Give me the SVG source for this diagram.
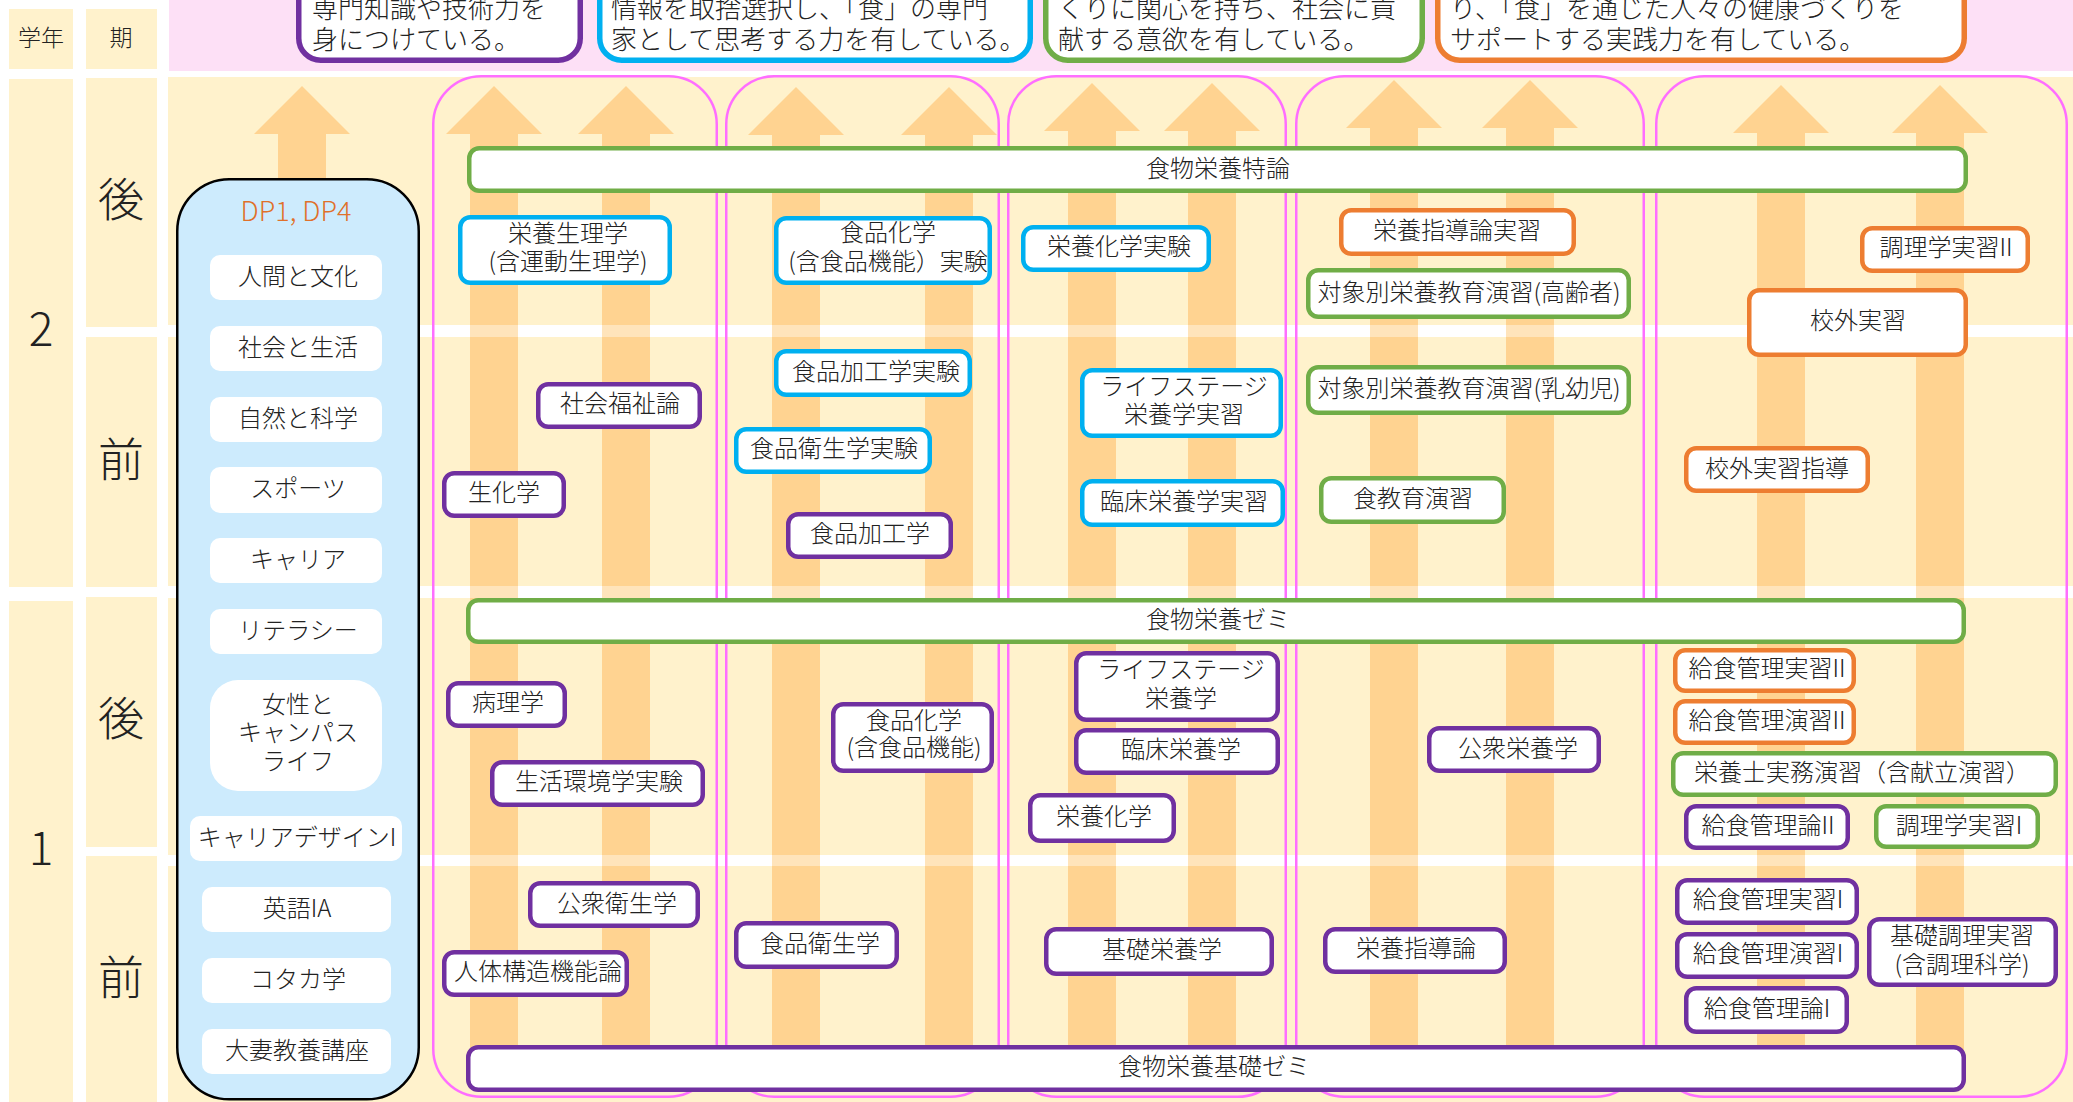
<svg xmlns="http://www.w3.org/2000/svg" width="2073" height="1102" viewBox="0 0 2073 1102">
<style>
.bg{fill:#fff2cc}
.arr{fill:#ffd391}
.col{fill:none;stroke:#ff6eff;stroke-width:2.5}
.n{fill:#fff;stroke-width:4.5}
.top{fill:#fff;stroke-width:5.5}
.p{stroke:#7030a0}.c{stroke:#00b0f0}.g{stroke:#70ad47}.o{stroke:#ed7d31}
text{font-family:"Noto Sans CJK JP","Noto Sans",sans-serif;font-weight:300;fill:#222;transform:translate(0px,-4px)}
.t{font-size:24px;text-anchor:middle;dominant-baseline:central}
.dp{font-size:26px;dominant-baseline:central}
.big{font-size:46px;text-anchor:middle;dominant-baseline:central}
.hd{font-size:23px;text-anchor:middle;dominant-baseline:central}
.inner{fill:#fff}
</style>
<rect width="2073" height="1102" fill="#fff"/>
<g id="background">
<rect x="169" y="0" width="1904" height="71" fill="#fde0f6"/>
<rect class="bg" x="9" y="9" width="64" height="60"/>
<rect class="bg" x="86" y="9" width="71" height="60"/>
<rect class="bg" x="9" y="79" width="64" height="508"/>
<rect class="bg" x="9" y="601" width="64" height="501"/>
<rect class="bg" x="86" y="78" width="71" height="249"/>
<rect class="bg" x="86" y="337" width="71" height="250"/>
<rect class="bg" x="86" y="597" width="71" height="250"/>
<rect class="bg" x="86" y="856" width="71" height="246"/>
<rect class="bg" x="168" y="77" width="1905" height="248"/>
<rect class="bg" x="168" y="337" width="1905" height="249"/>
<rect class="bg" x="168" y="598" width="1905" height="257"/>
<rect class="bg" x="168" y="866" width="1905" height="236"/>
</g>
<g id="labels">
<text class="hd" x="41" y="40">学年</text>
<text class="hd" x="121" y="40">期</text>
<text class="big" x="41" y="330">2</text>
<text class="big" x="41" y="849">1</text>
<text class="big" x="121" y="200">後</text>
<text class="big" x="121" y="460">前</text>
<text class="big" x="121" y="719">後</text>
<text class="big" x="121" y="978">前</text>
</g>
<g id="arrows">
<path class="arr" d="M302,86 L350,134 L326,134 L326,1060 L278,1060 L278,134 L254,134 Z"/>
<path class="arr" d="M494,86 L542,134 L518,134 L518,1060 L470,1060 L470,134 L446,134 Z"/>
<path class="arr" d="M626,86 L674,134 L650,134 L650,1060 L602,1060 L602,134 L578,134 Z"/>
<path class="arr" d="M796,87 L844,135 L820,135 L820,1060 L772,1060 L772,135 L748,135 Z"/>
<path class="arr" d="M949,87 L997,135 L973,135 L973,1060 L925,1060 L925,135 L901,135 Z"/>
<path class="arr" d="M1092,83 L1140,131 L1116,131 L1116,1060 L1068,1060 L1068,131 L1044,131 Z"/>
<path class="arr" d="M1212,83 L1260,131 L1236,131 L1236,1060 L1188,1060 L1188,131 L1164,131 Z"/>
<path class="arr" d="M1394,80 L1442,128 L1418,128 L1418,1060 L1370,1060 L1370,128 L1346,128 Z"/>
<path class="arr" d="M1530,80 L1578,128 L1554,128 L1554,1060 L1506,1060 L1506,128 L1482,128 Z"/>
<path class="arr" d="M1781,85 L1829,133 L1805,133 L1805,1060 L1757,1060 L1757,133 L1733,133 Z"/>
<path class="arr" d="M1940,85 L1988,133 L1964,133 L1964,1060 L1916,1060 L1916,133 L1892,133 Z"/>
<g fill="#fff" opacity="0.38">
<rect x="168" y="325" width="1905" height="12"/>
<rect x="168" y="586" width="1905" height="12"/>
<rect x="168" y="855" width="1905" height="11"/>
</g>
</g>
<g id="columns">
<rect class="col" x="433.25" y="76.25" width="283.5" height="1020.5" rx="48"/>
<rect class="col" x="726.25" y="76.25" width="272.5" height="1020.5" rx="48"/>
<rect class="col" x="1008.25" y="76.25" width="277.5" height="1020.5" rx="48"/>
<rect class="col" x="1296.25" y="76.25" width="347.5" height="1020.5" rx="48"/>
<rect class="col" x="1656.25" y="76.25" width="410.5" height="1020.5" rx="48"/>
</g>
<g id="dp-top">
<g id="dp-a"><rect class="top p" x="298.75" y="-30" width="281.5" height="90.25" rx="22"/>
<text class="dp" x="312" y="10">専門知識や技術力を</text><text class="dp" x="312" y="41">身につけている。</text></g>
<g id="dp-b"><rect class="top c" x="599.75" y="-30" width="430.5" height="90.25" rx="22"/>
<text class="dp" x="611" y="10">情報を取捨選択し、「食」の専門</text><text class="dp" x="611" y="41">家として思考する力を有している。</text></g>
<g id="dp-c"><rect class="top g" x="1045.75" y="-30" width="376.5" height="90.25" rx="22"/>
<text class="dp" x="1058" y="10">くりに関心を持ち、社会に貢</text><text class="dp" x="1058" y="41">献する意欲を有している。</text></g>
<g id="dp-d"><rect class="top o" x="1437.75" y="-30" width="526.5" height="90.25" rx="22"/>
<text class="dp" x="1450" y="10">り、「食」を通じた人々の健康づくりを</text><text class="dp" x="1450" y="41">サポートする実践力を有している。</text></g>
</g>
<g id="general-education">
<rect x="177.25" y="179.25" width="241.5" height="920" rx="52" fill="#cdebfd" stroke="#000" stroke-width="2.5"/>
<text class="t" x="296" y="213" style="fill:#e0702a;font-size:27px">DP1, DP4</text>
<rect class="inner" x="210" y="255" width="172" height="45" rx="10"/><text class="t" x="298" y="278">人間と文化</text>
<rect class="inner" x="210" y="326" width="172" height="45" rx="10"/><text class="t" x="298" y="349">社会と生活</text>
<rect class="inner" x="210" y="397" width="172" height="45" rx="10"/><text class="t" x="298" y="420">自然と科学</text>
<rect class="inner" x="210" y="467" width="172" height="46" rx="10"/><text class="t" x="298" y="490">スポーツ</text>
<rect class="inner" x="210" y="538" width="172" height="45" rx="10"/><text class="t" x="298" y="561">キャリア</text>
<rect class="inner" x="210" y="609" width="172" height="45" rx="10"/><text class="t" x="298" y="632">リテラシー</text>
<rect class="inner" x="210" y="680" width="172" height="111" rx="28"/><text class="t"><tspan x="298" y="706">女性と</tspan><tspan x="298" y="734">キャンパス</tspan><tspan x="298" y="763">ライフ</tspan></text>
<rect class="inner" x="190" y="816" width="212" height="45" rx="10"/><text class="t" x="297" y="839">キャリアデザインI</text>
<rect class="inner" x="202" y="887" width="189" height="45" rx="10"/><text class="t" x="297" y="910">英語IA</text>
<rect class="inner" x="202" y="958" width="189" height="45" rx="10"/><text class="t" x="298" y="981">コタカ学</text>
<rect class="inner" x="202" y="1029" width="189" height="45" rx="10"/><text class="t" x="297" y="1052">大妻教養講座</text>
</g>
<g id="courses">
<g id="n1"><rect class="n g" x="469.25" y="148.25" width="1496.5" height="42.5" rx="10"/><text class="t" x="1218" y="170">食物栄養特論</text></g>
<g id="n2"><rect class="n c" x="460.25" y="217.25" width="209.5" height="65.5" rx="10"/><text class="t"><tspan x="568" y="235">栄養生理学</tspan><tspan x="568" y="263">(含運動生理学)</tspan></text></g>
<g id="n3"><rect class="n p" x="538.25" y="384.25" width="161.5" height="42.5" rx="10"/><text class="t" x="620" y="405">社会福祉論</text></g>
<g id="n4"><rect class="n p" x="444.25" y="473.25" width="119.5" height="42.5" rx="10"/><text class="t" x="504" y="494">生化学</text></g>
<g id="n5"><rect class="n g" x="468.25" y="600.25" width="1495.5" height="41.5" rx="10"/><text class="t" x="1218" y="621">食物栄養ゼミ</text></g>
<g id="n6"><rect class="n p" x="448.25" y="683.25" width="116.5" height="42.5" rx="10"/><text class="t" x="508" y="704">病理学</text></g>
<g id="n7"><rect class="n p" x="492.25" y="762.25" width="210.5" height="42.5" rx="10"/><text class="t" x="599" y="783">生活環境学実験</text></g>
<g id="n8"><rect class="n p" x="530.25" y="883.25" width="167.5" height="42.5" rx="10"/><text class="t" x="617" y="905">公衆衛生学</text></g>
<g id="n9"><rect class="n p" x="444.25" y="952.25" width="182.5" height="42.5" rx="10"/><text class="t" x="538" y="973">人体構造機能論</text></g>
<g id="n10"><rect class="n p" x="468.25" y="1047.25" width="1495.5" height="42.5" rx="10"/><text class="t" x="1214" y="1068">食物栄養基礎ゼミ</text></g>
<g id="n11"><rect class="n c" x="776.25" y="218.25" width="213.5" height="64.5" rx="10"/><text class="t"><tspan x="888" y="234">食品化学</tspan><tspan x="888" y="263">(含食品機能）実験</tspan></text></g>
<g id="n12"><rect class="n c" x="1023.25" y="227.25" width="185.5" height="42.5" rx="10"/><text class="t" x="1119" y="248">栄養化学実験</text></g>
<g id="n13"><rect class="n c" x="776.25" y="351.25" width="193.5" height="43.5" rx="10"/><text class="t" x="876" y="373">食品加工学実験</text></g>
<g id="n14"><rect class="n c" x="736.25" y="429.25" width="193.5" height="42.5" rx="10"/><text class="t" x="834" y="450">食品衛生学実験</text></g>
<g id="n15"><rect class="n p" x="788.25" y="514.25" width="162.5" height="42.5" rx="10"/><text class="t" x="870" y="535">食品加工学</text></g>
<g id="n16"><rect class="n c" x="1082.25" y="370.25" width="198.5" height="65.5" rx="10"/><text class="t"><tspan x="1184" y="388">ライフステージ</tspan><tspan x="1184" y="416">栄養学実習</tspan></text></g>
<g id="n17"><rect class="n c" x="1082.25" y="481.25" width="200.5" height="43.5" rx="10"/><text class="t" x="1184" y="503">臨床栄養学実習</text></g>
<g id="n18"><rect class="n p" x="833.25" y="704.25" width="158.5" height="66.5" rx="10"/><text class="t"><tspan x="914" y="722">食品化学</tspan><tspan x="914" y="749">(含食品機能)</tspan></text></g>
<g id="n19"><rect class="n p" x="1076.25" y="653.25" width="201.5" height="66.5" rx="10"/><text class="t"><tspan x="1181" y="671">ライフステージ</tspan><tspan x="1181" y="700">栄養学</tspan></text></g>
<g id="n20"><rect class="n p" x="1076.25" y="730.25" width="201.5" height="42.5" rx="10"/><text class="t" x="1181" y="751">臨床栄養学</text></g>
<g id="n21"><rect class="n p" x="1030.25" y="795.25" width="143.5" height="45.5" rx="10"/><text class="t" x="1104" y="818">栄養化学</text></g>
<g id="n22"><rect class="n p" x="736.25" y="923.25" width="160.5" height="43.5" rx="10"/><text class="t" x="820" y="945">食品衛生学</text></g>
<g id="n23"><rect class="n p" x="1046.25" y="929.25" width="225.5" height="44.5" rx="10"/><text class="t" x="1162" y="951">基礎栄養学</text></g>
<g id="n24"><rect class="n o" x="1341.25" y="210.25" width="232.5" height="43.5" rx="10"/><text class="t" x="1457" y="232">栄養指導論実習</text></g>
<g id="n25"><rect class="n g" x="1308.25" y="270.25" width="320.5" height="46.5" rx="10"/><text class="t" x="1469" y="294">対象別栄養教育演習(高齢者)</text></g>
<g id="n26"><rect class="n g" x="1308.25" y="367.25" width="320.5" height="45.5" rx="10"/><text class="t" x="1469" y="390">対象別栄養教育演習(乳幼児)</text></g>
<g id="n27"><rect class="n g" x="1321.25" y="478.25" width="182.5" height="43.5" rx="10"/><text class="t" x="1413" y="500">食教育演習</text></g>
<g id="n28"><rect class="n p" x="1325.25" y="929.25" width="179.5" height="42.5" rx="10"/><text class="t" x="1416" y="950">栄養指導論</text></g>
<g id="n29"><rect class="n p" x="1429.25" y="728.25" width="169.5" height="42.5" rx="10"/><text class="t" x="1518" y="750">公衆栄養学</text></g>
<g id="n30"><rect class="n o" x="1862.25" y="228.25" width="165.5" height="42.5" rx="10"/><text class="t" x="1946" y="249">調理学実習II</text></g>
<g id="n31"><rect class="n o" x="1749.25" y="290.25" width="216.5" height="64.5" rx="10"/><text class="t" x="1858" y="322">校外実習</text></g>
<g id="n32"><rect class="n o" x="1686.25" y="448.25" width="181.5" height="42.5" rx="10"/><text class="t" x="1777" y="470">校外実習指導</text></g>
<g id="n33"><rect class="n o" x="1675.25" y="650.25" width="178.5" height="40.5" rx="10"/><text class="t" x="1767" y="670">給食管理実習II</text></g>
<g id="n34"><rect class="n o" x="1675.25" y="701.25" width="178.5" height="41.5" rx="10"/><text class="t" x="1767" y="722">給食管理演習II</text></g>
<g id="n35"><rect class="n g" x="1673.25" y="753.25" width="382.5" height="41.5" rx="10"/><text class="t" x="1862" y="774">栄養士実務演習（含献立演習）</text></g>
<g id="n36"><rect class="n p" x="1686.25" y="806.25" width="161.5" height="41.5" rx="10"/><text class="t" x="1768" y="827">給食管理論II</text></g>
<g id="n37"><rect class="n g" x="1876.25" y="806.25" width="161.5" height="40.5" rx="10"/><text class="t" x="1959" y="827">調理学実習I</text></g>
<g id="n38"><rect class="n p" x="1677.25" y="880.25" width="179.5" height="42.5" rx="10"/><text class="t" x="1768" y="901">給食管理実習I</text></g>
<g id="n39"><rect class="n p" x="1677.25" y="934.25" width="179.5" height="42.5" rx="10"/><text class="t" x="1768" y="955">給食管理演習I</text></g>
<g id="n40"><rect class="n p" x="1686.25" y="988.25" width="160.5" height="43.5" rx="10"/><text class="t" x="1767" y="1010">給食管理論I</text></g>
<g id="n41"><rect class="n p" x="1869.25" y="919.25" width="186.5" height="65.5" rx="10"/><text class="t"><tspan x="1962" y="937">基礎調理実習</tspan><tspan x="1962" y="966">(含調理科学)</tspan></text></g>
</g>
</svg>
